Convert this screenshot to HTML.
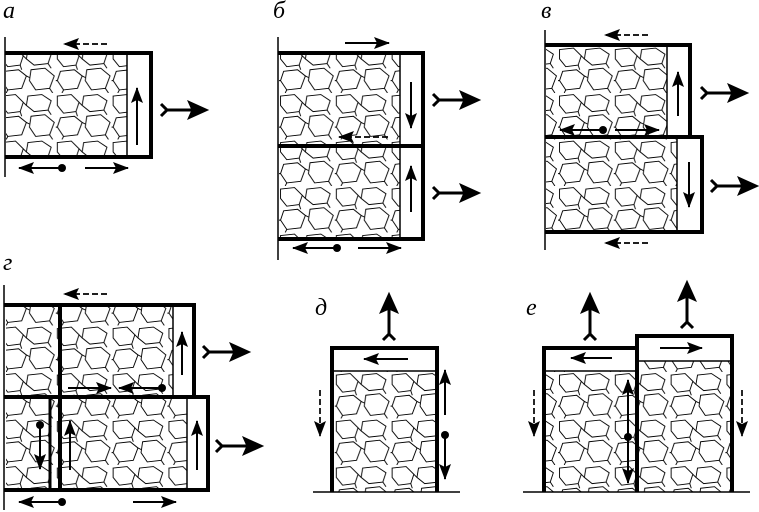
<!DOCTYPE html>
<html><head><meta charset="utf-8"><style>
html,body{margin:0;padding:0;background:#fff;}
svg{display:block;}
text{font-family:"Liberation Serif",serif;font-style:italic;font-size:24px;fill:#000;}
</style></head><body>
<svg width="759" height="512" viewBox="0 0 759 512" xmlns="http://www.w3.org/2000/svg">
<defs>
<pattern id="st" width="36" height="30" patternUnits="userSpaceOnUse" patternTransform="scale(1.55)">
<g fill="none" stroke="#000" stroke-width="0.6">
<path d="M1,2 L10,1 L15,6 L13,12 L5,13 L1,8 Z"/>
<path d="M18,2 L27,1 L33,5 L31,11 L22,12 L17,8 Z"/>
<path d="M3,16 L12,15 L17,19 L14,27 L5,28 L1,22 Z"/>
<path d="M20,15 L29,14 L35,19 L32,27 L23,28 L19,22 Z"/>
<path d="M15,6 L17,8 M13,12 L14,15 M31,11 L33,14 M1,22 L0,22 M17,19 L19,20 M32,27 L34,30 M5,28 L4,30"/>
</g>
</pattern>
<marker id="ah" markerUnits="userSpaceOnUse" markerWidth="16" markerHeight="12" refX="15" refY="6" orient="auto">
<path d="M0,0 L16,6 L0,12 L3,6 Z" fill="#000"/>
</marker>
<g id="ex">
<path d="M0,-6 L6,0 L0,6" fill="none" stroke="#000" stroke-width="3"/>
<line x1="5" y1="0" x2="32" y2="0" stroke="#000" stroke-width="3"/>
<path d="M27,-9 L47,0 L27,9 L31,0 Z" fill="#000"/>
</g>
</defs>

<g fill="none" stroke="#000">
<!-- a -->
<rect x="6" y="53" width="121" height="104" fill="url(#st)" stroke="none"/>
<line x1="5" y1="37" x2="5" y2="177" stroke-width="1.5"/>
<path d="M5,53 H151 V157 H5" stroke-width="4"/>
<line x1="127" y1="53" x2="127" y2="157" stroke-width="1.5"/>
<line x1="137" y1="145" x2="137" y2="88" stroke-width="2" marker-end="url(#ah)"/>
<line x1="107" y1="44" x2="64" y2="44" stroke-width="1.7" stroke-dasharray="6,3" marker-end="url(#ah)"/>
<line x1="62" y1="168" x2="19" y2="168" stroke-width="2" marker-end="url(#ah)"/>
<line x1="85" y1="168" x2="128" y2="168" stroke-width="2" marker-end="url(#ah)"/>
<use href="#ex" x="161" y="110"/>

<!-- b -->
<rect x="279" y="53" width="121" height="186" fill="url(#st)" stroke="none"/>
<line x1="278" y1="37" x2="278" y2="260" stroke-width="1.5"/>
<path d="M278,53 H423 V239 H278 M278,146 H423" stroke-width="4"/>
<line x1="400" y1="53" x2="400" y2="239" stroke-width="1.5"/>
<line x1="345" y1="43" x2="389" y2="43" stroke-width="2" marker-end="url(#ah)"/>
<line x1="411" y1="82" x2="411" y2="128" stroke-width="2" marker-end="url(#ah)"/>
<line x1="388" y1="137" x2="339" y2="137" stroke-width="1.7" stroke-dasharray="6,3" marker-end="url(#ah)"/>
<line x1="411" y1="212" x2="411" y2="166" stroke-width="2" marker-end="url(#ah)"/>
<line x1="337" y1="248" x2="293" y2="248" stroke-width="2" marker-end="url(#ah)"/>
<line x1="358" y1="248" x2="401" y2="248" stroke-width="2" marker-end="url(#ah)"/>
<use href="#ex" x="433" y="100"/>
<use href="#ex" x="433" y="193"/>

<!-- v -->
<rect x="546" y="45" width="121" height="187" fill="url(#st)" stroke="none"/>
<rect x="667" y="137" width="10" height="95" fill="url(#st)" stroke="none"/>
<line x1="545" y1="30" x2="545" y2="250" stroke-width="1.5"/>
<path d="M545,45 H690 V137 M545,137 H702 V232 H545" stroke-width="4"/>
<line x1="667" y1="45" x2="667" y2="137" stroke-width="1.5"/>
<line x1="677" y1="137" x2="677" y2="232" stroke-width="1.5"/>
<line x1="648" y1="35" x2="605" y2="35" stroke-width="1.7" stroke-dasharray="6,3" marker-end="url(#ah)"/>
<line x1="678" y1="116" x2="678" y2="72" stroke-width="2" marker-end="url(#ah)"/>
<line x1="603" y1="130" x2="560" y2="130" stroke-width="2" marker-end="url(#ah)"/>
<line x1="615" y1="130" x2="659" y2="130" stroke-width="2" marker-end="url(#ah)"/>
<line x1="689" y1="162" x2="689" y2="207" stroke-width="2" marker-end="url(#ah)"/>
<line x1="648" y1="243" x2="605" y2="243" stroke-width="1.7" stroke-dasharray="6,3" marker-end="url(#ah)"/>
<use href="#ex" x="701" y="93"/>
<use href="#ex" x="711" y="186"/>

<!-- g -->
<rect x="6" y="305" width="167" height="92" fill="url(#st)" stroke="none"/>
<rect x="6" y="397" width="181" height="93" fill="url(#st)" stroke="none"/>
<line x1="4" y1="285" x2="4" y2="510" stroke-width="1.5"/>
<path d="M4,305 H194 V397 M4,397 H208 V490 H4 M60,305 V490" stroke-width="4"/>
<line x1="50" y1="397" x2="50" y2="490" stroke-width="3"/>
<line x1="173" y1="305" x2="173" y2="397" stroke-width="1.5"/>
<line x1="187" y1="397" x2="187" y2="490" stroke-width="1.5"/>
<line x1="107" y1="294" x2="64" y2="294" stroke-width="1.7" stroke-dasharray="6,3" marker-end="url(#ah)"/>
<line x1="182" y1="375" x2="182" y2="332" stroke-width="2" marker-end="url(#ah)"/>
<line x1="68" y1="388" x2="111" y2="388" stroke-width="2" marker-end="url(#ah)"/>
<line x1="162" y1="388" x2="119" y2="388" stroke-width="2" marker-end="url(#ah)"/>
<line x1="40" y1="425" x2="40" y2="469" stroke-width="2" marker-end="url(#ah)"/>
<line x1="70" y1="470" x2="70" y2="421" stroke-width="2" marker-end="url(#ah)"/>
<line x1="197" y1="470" x2="197" y2="421" stroke-width="2" marker-end="url(#ah)"/>
<line x1="62" y1="502" x2="19" y2="502" stroke-width="2" marker-end="url(#ah)"/>
<line x1="133" y1="502" x2="176" y2="502" stroke-width="2" marker-end="url(#ah)"/>
<use href="#ex" x="203" y="352"/>
<use href="#ex" x="216" y="446"/>

<!-- d -->
<rect x="332" y="371" width="105" height="121" fill="url(#st)" stroke="none"/>
<line x1="313" y1="492" x2="460" y2="492" stroke-width="1.5"/>
<path d="M332,492 V348 H437 V492" stroke-width="4"/>
<line x1="332" y1="371" x2="437" y2="371" stroke-width="1.5"/>
<line x1="408" y1="359" x2="364" y2="359" stroke-width="2" marker-end="url(#ah)"/>
<line x1="320" y1="390" x2="320" y2="436" stroke-width="1.7" stroke-dasharray="6,3" marker-end="url(#ah)"/>
<line x1="445" y1="415" x2="445" y2="370" stroke-width="2" marker-end="url(#ah)"/>
<line x1="445" y1="435" x2="445" y2="479" stroke-width="2" marker-end="url(#ah)"/>
<use href="#ex" transform="translate(389,340) rotate(-90)"/>

<!-- e -->
<rect x="544" y="371" width="94" height="121" fill="url(#st)" stroke="none"/>
<rect x="638" y="361" width="94" height="131" fill="url(#st)" stroke="none"/>
<line x1="523" y1="492" x2="750" y2="492" stroke-width="1.5"/>
<path d="M544,492 V348 H637 M637,492 V336 H732 V492" stroke-width="4"/>
<line x1="544" y1="371" x2="637" y2="371" stroke-width="1.5"/>
<line x1="637" y1="361" x2="732" y2="361" stroke-width="1.5"/>
<line x1="612" y1="358" x2="571" y2="358" stroke-width="2" marker-end="url(#ah)"/>
<line x1="660" y1="348" x2="702" y2="348" stroke-width="2" marker-end="url(#ah)"/>
<line x1="534" y1="390" x2="534" y2="436" stroke-width="1.7" stroke-dasharray="6,3" marker-end="url(#ah)"/>
<line x1="742" y1="390" x2="742" y2="436" stroke-width="1.7" stroke-dasharray="6,3" marker-end="url(#ah)"/>
<line x1="628" y1="437" x2="628" y2="380" stroke-width="2" marker-end="url(#ah)"/>
<line x1="628" y1="437" x2="628" y2="483" stroke-width="2" marker-end="url(#ah)"/>
<use href="#ex" transform="translate(590,340) rotate(-90)"/>
<use href="#ex" transform="translate(687,328) rotate(-90)"/>
</g>

<g fill="#000">
<circle cx="62" cy="168" r="4"/>
<circle cx="337" cy="248" r="4"/>
<circle cx="603" cy="130" r="4"/>
<circle cx="162" cy="388" r="4"/>
<circle cx="40" cy="425" r="4"/>
<circle cx="62" cy="502" r="4"/>
<circle cx="445" cy="435" r="4"/>
<circle cx="628" cy="437" r="4"/>
</g>

<text x="3" y="18">а</text>
<text x="273" y="18">б</text>
<text x="541" y="18">в</text>
<text x="3" y="270">г</text>
<text x="315" y="315">д</text>
<text x="526" y="315">е</text>
</svg>
</body></html>
